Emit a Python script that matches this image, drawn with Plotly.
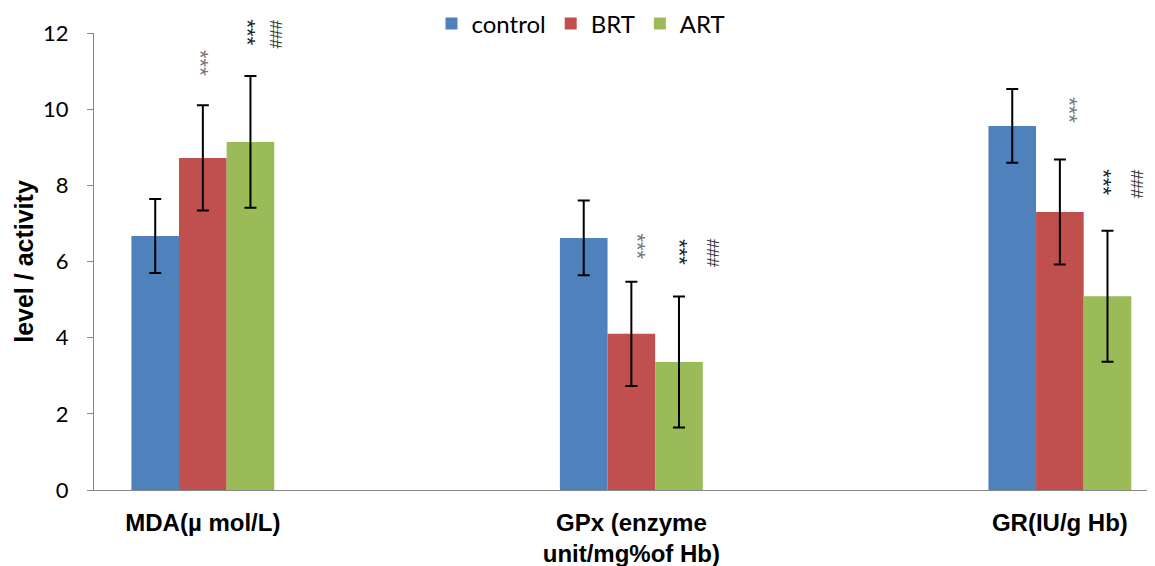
import plotly.graph_objects as go

categories = ["MDA(µ mol/L)", "GPx (enzyme<br>unit/mg%of Hb)", "GR(IU/g Hb)"]
series_names = ["control", "BRT", "ART"]
control_vals = [6.67, 6.62, 9.56]
brt_vals = [8.72, 4.10, 7.30]
art_vals = [9.14, 3.36, 5.09]
control_err = [0.97, 0.98, 0.97]
brt_err = [1.38, 1.37, 1.38]
art_err = [1.73, 1.72, 1.72]
colors = ["#4F81BD", "#C0504D", "#9BBB59"]

fig = go.Figure()
for name, vals, errs, col in zip(series_names, [control_vals, brt_vals, art_vals],
                                  [control_err, brt_err, art_err], colors):
    fig.add_trace(go.Bar(
        x=[0, 1, 2], y=vals, name=name, marker=dict(color=col, line=dict(width=0)),
        error_y=dict(type="data", array=errs, visible=True, color="black", thickness=2, width=6),
    ))

# significance marks: (category index, series offset (0 BRT, 1 ART), y top, text, style, x shift, y shift)
bw = 0.3334 / 3
marks = [
    (0, 0, 11.61, "***", "g", -3, 0),
    (0, 1, 12.0, "***", "k", -2, 15),
    (0, 1, 12.0, "###", "k", 25, 15),
    (1, 0, 6.78, "***", "g", 6, 0),
    (1, 1, 6.64, "***", "k", 1, 0),
    (1, 1, 6.64, "###", "k", 33, 0),
    (2, 0, 10.37, "***", "g", 10, 0),
    (2, 1, 8.46, "***", "k", -4, 0),
    (2, 1, 8.46, "###", "k", 29, 0),
]
for ci, si, ytop, txt, style, xs, ys in marks:
    if txt == "###":
        fsize, fcol = 17, "#333333"
    elif style == "k":
        fsize, fcol = 22, "#222222"
    else:
        fsize, fcol = 22, "#777777"
    fig.add_annotation(
        x=ci + si * bw, y=ytop, xref="x", yref="y", text=txt, textangle=90,
        showarrow=False, yanchor="top", xanchor="center", xshift=xs, yshift=ys,
        font=dict(family="Liberation Sans", size=fsize, color=fcol),
    )

fig.update_layout(
    width=1147, height=558,
    margin=dict(l=86, r=0, t=25, b=76, autoexpand=False),
    plot_bgcolor="white", paper_bgcolor="white",
    barmode="group", bargap=0.6666, bargroupgap=0,
    showlegend=True,
    legend=dict(orientation="h", x=0.459, xanchor="center", y=1.02, yanchor="middle",
                font=dict(family="Lato", size=24, color="black"),
                itemwidth=30, tracegroupgap=0, bgcolor="rgba(0,0,0,0)"),
    xaxis=dict(
        tickmode="array", tickvals=[0, 1, 2], ticktext=categories,
        range=[-0.254, 2.222], showline=True, linecolor="#868686", linewidth=1,
        ticks="", showgrid=False, zeroline=False, ticklabelstandoff=11, automargin=False,
        tickfont=dict(family="Liberation Sans", size=24, color="black", weight="bold"),
    ),
    yaxis=dict(
        range=[0, 12], dtick=2, tick0=0, showline=True, linecolor="#868686", linewidth=1,
        ticks="outside", ticklen=6, tickcolor="#868686", showgrid=False, zeroline=False,
        automargin=False, ticklabelstandoff=14,
        tickfont=dict(family="Lato", size=22, color="black"),
        title=dict(text="level / activity", standoff=2,
                   font=dict(family="Liberation Sans", size=25, color="black", weight="bold")),
    ),
)

fig.write_html("out.html")
